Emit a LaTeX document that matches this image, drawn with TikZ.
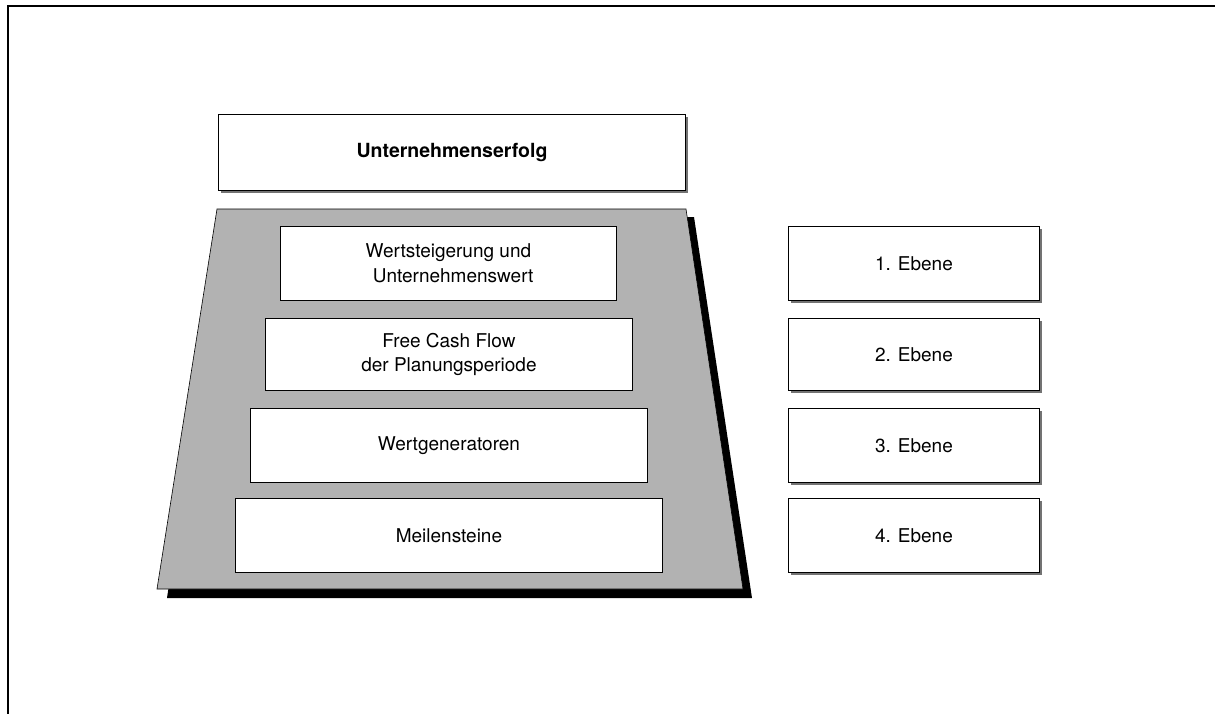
\documentclass[tikz,border=0pt]{standalone}
\usepackage{fontspec}
\setmainfont{TeX Gyre Heros}
\begin{document}
\begin{tikzpicture}[x=1pt,y=-1pt,
  card/.style={draw=black,line width=0.9pt,fill=white,anchor=north west,
    inner sep=0pt,align=center,font=\fontsize{19}{24.5}\selectfont},
  shadowed/.style={card,
    preaction={fill=black!55,transform canvas={shift={(3pt,-3pt)}}}},
  frameline/.style={line width=2pt,line cap=rect},
  panel/.style={fill=black!30,draw=black,line width=0.6pt},
  panelshadow/.style={fill=black}]
\useasboundingbox (0,0) rectangle (1215,713);
% outer frame: top and left edges only
\coordinate (fr) at (1215,6);
\coordinate (fc) at (8,6);
\coordinate (fb) at (8,713);
\draw[frameline] (fr) -- (fc) -- (fb);

% overall result
\node[shadowed,font=\bfseries\fontsize{19.5}{24.5}\selectfont,
  minimum width=467pt,minimum height=76pt] (top) at (218,114) {Unternehmenserfolg};

% trapezoid panel with black drop shadow
\coordinate (tl) at (217,209);
\coordinate (tr) at (686,209);
\coordinate (br) at (743,589);
\coordinate (bl) at (157,589);
\fill[panelshadow] ([shift={(8,8)}]tl) -- ([shift={(8,8)}]tr) -- ([shift={(9,9)}]br) -- ([shift={(10,9)}]bl) -- cycle;
\draw[panel] (tl) -- (tr) -- (br) -- (bl) -- cycle;

% levels inside the panel
\node[card,minimum width=336pt,minimum height=74pt] (l1) at (280,226)
  {Wertsteigerung und\\ \hphantom{x}Unternehmenswert};
\node[card,minimum width=367pt,minimum height=72pt] (l2) at (265,318)
  {Free Cash Flow\\der Planungsperiode};
\node[card,minimum width=397pt,minimum height=74pt] (l3) at (250,408)
  {Wertgeneratoren};
\node[card,minimum width=427pt,minimum height=74pt] (l4) at (235,498)
  {Meilensteine};

% level labels
\node[shadowed,minimum width=251pt,minimum height=74pt] (e1) at (788,226) {1. Ebene};
\node[shadowed,minimum width=251pt,minimum height=72pt] (e2) at (788,318) {2. Ebene};
\node[shadowed,minimum width=251pt,minimum height=74pt] (e3) at (788,408) {3. Ebene};
\node[shadowed,minimum width=251pt,minimum height=74pt] (e4) at (788,498) {4. Ebene};
\end{tikzpicture}
\end{document}
